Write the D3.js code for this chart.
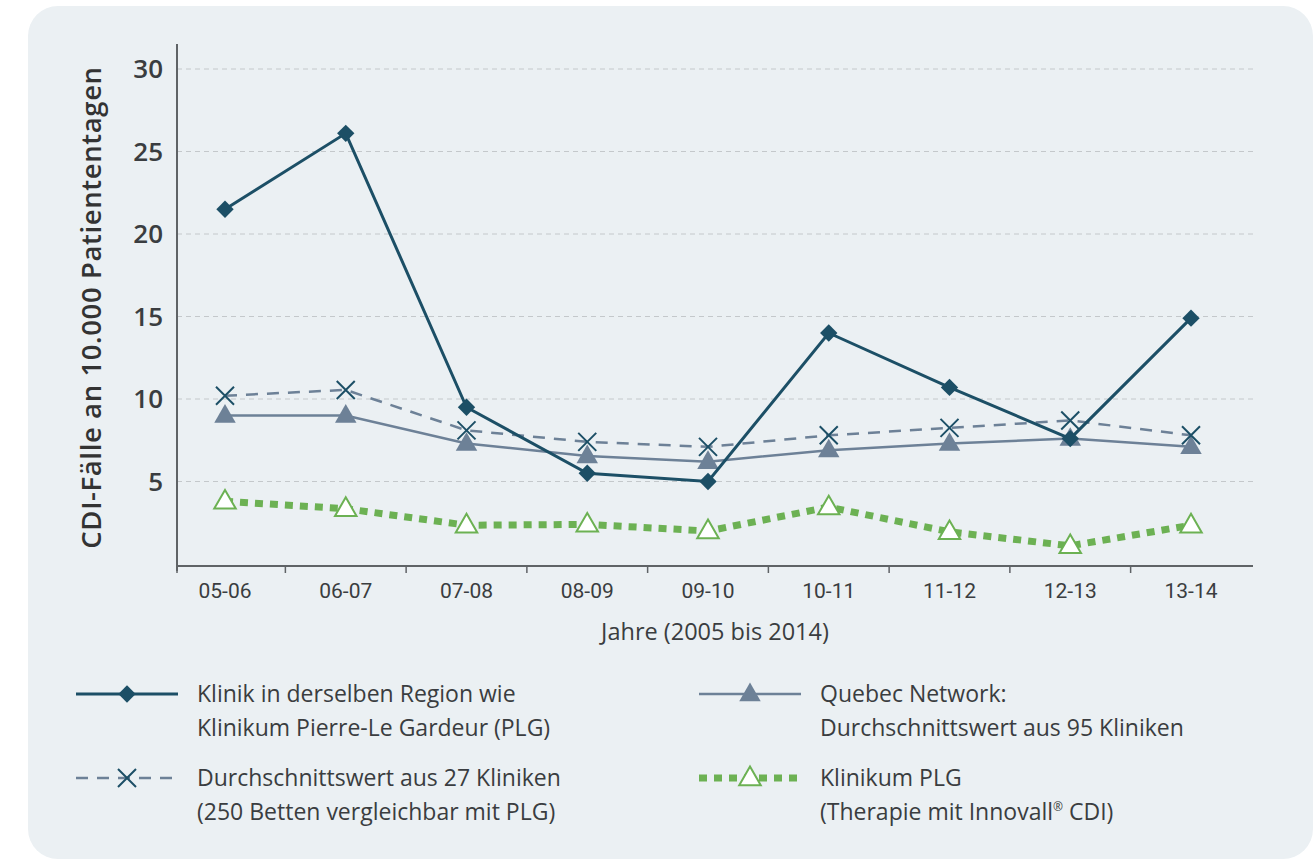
<!DOCTYPE html>
<html>
<head>
<meta charset="utf-8">
<script src="https://cdn.jsdelivr.net/npm/d3@7"></script>
<style>
  body { margin: 0; background: #fff; }
  svg { display: block; }
</style>
</head>
<body>
<svg id="chart" width="1316" height="861"></svg>
<script>
// Jahre
const jahre = ["05-06", "06-07", "07-08", "08-09", "09-10", "10-11", "11-12", "12-13", "13-14"];
const yTicks = [5, 10, 15, 20, 25, 30];

// Werte (CDI-Fälle an 10.000 Patiententagen)
const klinikRegion = [21.5, 26.1, 9.5, 5.5, 5.0, 14.0, 10.7, 7.6, 14.9];
const schnitt27 = [10.2, 10.55, 8.1, 7.4, 7.1, 7.8, 8.25, 8.7, 7.8];
const quebec = [9.0, 9.0, 7.3, 6.55, 6.2, 6.9, 7.3, 7.6, 7.1];
const klinikumPLG = [3.8, 3.35, 2.35, 2.4, 2.0, 3.45, 1.95, 1.1, 2.35];

const dunkel = "#1c4f66";
const grau = "#6d8197";
const gruen = "#6cb153";

const svg = d3.select("#chart");

// Hintergrund-Panel
svg.append("rect")
    .attr("x", 28).attr("y", 6)
    .attr("width", 1285).attr("height", 853)
    .attr("rx", 30).attr("ry", 30)
    .attr("fill", "#ebf0f3");

const x = d3.scalePoint().domain(jahre).range([225, 1191]);
const y = d3.scaleLinear().domain([0, 30]).range([564, 69]);
const step = x.step();
const xLeft = 177, xRight = 1253, yAxis = 566;

// Gitterlinien
svg.append("g").selectAll("line")
    .data(yTicks)
    .join("line")
    .attr("x1", xLeft).attr("x2", xRight)
    .attr("y1", d => y(d)).attr("y2", d => y(d))
    .attr("stroke", "#c4c8cb")
    .attr("stroke-width", 1)
    .attr("stroke-dasharray", "5,4");

// y-Achse
svg.append("line")
    .attr("x1", xLeft).attr("x2", xLeft)
    .attr("y1", 44).attr("y2", 571)
    .attr("stroke", "#5f6366").attr("stroke-width", 2);

svg.append("g").selectAll("text")
    .data(yTicks)
    .join("text")
    .attr("x", 163)
    .attr("y", d => y(d))
    .attr("dy", "0.36em")
    .attr("text-anchor", "end")
    .attr("fill", "#3a3d40")
    .style("font-family", "'Open Sans', sans-serif")
    .style("font-size", "26px")
    .style("font-weight", 600)
    .text(d => d);

svg.append("text")
    .attr("transform", `translate(91, ${(44 + 571) / 2}) rotate(-90)`)
    .attr("dy", "0.35em")
    .attr("text-anchor", "middle")
    .attr("fill", "#333")
    .style("font-family", "'Open Sans', sans-serif")
    .style("font-size", "27.5px")
    .style("font-weight", 600)
    .style("letter-spacing", "0.6px")
    .text("CDI-Fälle an 10.000 Patiententagen");

// x-Achse
svg.append("line")
    .attr("x1", xLeft).attr("x2", xRight)
    .attr("y1", yAxis).attr("y2", yAxis)
    .attr("stroke", "#5f6366").attr("stroke-width", 2);

const tickPos = [xLeft].concat(jahre.slice(1).map(j => x(j) - step / 2));
svg.append("g").selectAll("line")
    .data(tickPos)
    .join("line")
    .attr("x1", d => d).attr("x2", d => d)
    .attr("y1", yAxis).attr("y2", yAxis + 7)
    .attr("stroke", "#5f6366").attr("stroke-width", 1.5);

svg.append("g").selectAll("text")
    .data(jahre)
    .join("text")
    .attr("x", d => x(d))
    .attr("y", 598)
    .attr("text-anchor", "middle")
    .attr("fill", "#3a3d40")
    .style("font-family", "Roboto, sans-serif")
    .style("font-size", "21px")
    .text(d => d);

svg.append("text")
    .attr("x", 715).attr("y", 640)
    .attr("text-anchor", "middle")
    .attr("fill", "#3a3d40")
    .style("font-family", "'Open Sans', sans-serif")
    .style("font-size", "23.5px")
    .text("Jahre (2005 bis 2014)");

// Marker
const diamond = d3.symbol().type(d3.symbolSquare).size(150);
const triangle = d3.symbol().type(d3.symbolTriangle).size(200);

function drawMarker(g, typ, cx, cy) {
    if (typ === "diamond") {
        g.append("path").attr("d", diamond())
            .attr("transform", `translate(${cx},${cy}) rotate(45)`)
            .attr("fill", dunkel);
    } else if (typ === "cross") {
        const s = 9;
        g.append("path")
            .attr("d", `M${cx - s},${cy - s}L${cx + s},${cy + s}M${cx - s},${cy + s}L${cx + s},${cy - s}`)
            .attr("stroke", dunkel).attr("stroke-width", 2).attr("fill", "none");
    } else if (typ === "triFill") {
        g.append("path").attr("d", triangle())
            .attr("transform", `translate(${cx},${cy + 1})`)
            .attr("fill", grau);
    } else if (typ === "triOpen") {
        g.append("path").attr("d", triangle())
            .attr("transform", `translate(${cx},${cy + 1})`)
            .attr("fill", "#fff").attr("stroke", gruen).attr("stroke-width", 2);
    }
}

const serien = [
    { name: ["Quebec Network:", "Durchschnittswert aus 95 Kliniken"], werte: quebec, farbe: grau, breite: 2.5, dash: null, marker: "triFill", leg: [699, 694] },
    { name: ["Durchschnittswert aus 27 Kliniken", "(250 Betten vergleichbar mit PLG)"], werte: schnitt27, farbe: grau, breite: 2.5, dash: "12,9", marker: "cross", leg: [76, 778] },
    { name: ["Klinikum PLG", "(Therapie mit Innovall® CDI)"], werte: klinikumPLG, farbe: gruen, breite: 7, dash: "8,7", marker: "triOpen", leg: [699, 778] },
    { name: ["Klinik in derselben Region wie", "Klinikum Pierre-Le Gardeur (PLG)"], werte: klinikRegion, farbe: dunkel, breite: 3, dash: null, marker: "diamond", leg: [76, 694] }
];

const line = d3.line()
    .x((d, i) => x(jahre[i]))
    .y(d => y(d));

serien.forEach(s => {
    const g = svg.append("g");
    g.append("path")
        .datum(s.werte)
        .attr("d", line)
        .attr("fill", "none")
        .attr("stroke", s.farbe)
        .attr("stroke-width", s.breite)
        .attr("stroke-dasharray", s.dash);
    s.werte.forEach((v, i) => drawMarker(g, s.marker, x(jahre[i]), y(v)));
});

// Legende
serien.forEach(s => {
    const [lx, ly] = s.leg;
    const g = svg.append("g");
    g.append("line")
        .attr("x1", lx).attr("x2", lx + 102)
        .attr("y1", ly).attr("y2", ly)
        .attr("stroke", s.farbe)
        .attr("stroke-width", s.breite)
        .attr("stroke-dasharray", s.dash);
    drawMarker(g, s.marker, lx + 51, ly);
    const txt = g.append("text")
        .attr("fill", "#3a3d40")
        .style("font-family", "'Open Sans', sans-serif")
        .style("font-size", "23px");
    s.name.forEach((zeile, i) => {
        const yy = ly + 8 + i * 34;
        const teile = zeile.split("®");
        txt.append("tspan").attr("x", lx + 121).attr("y", yy).text(teile[0]);
        if (teile.length > 1) {
            txt.append("tspan").attr("dy", -9).style("font-size", "12px").text("®");
            txt.append("tspan").attr("dy", 9).text(teile[1]);
        }
    });
});
</script>
</body>
</html>
